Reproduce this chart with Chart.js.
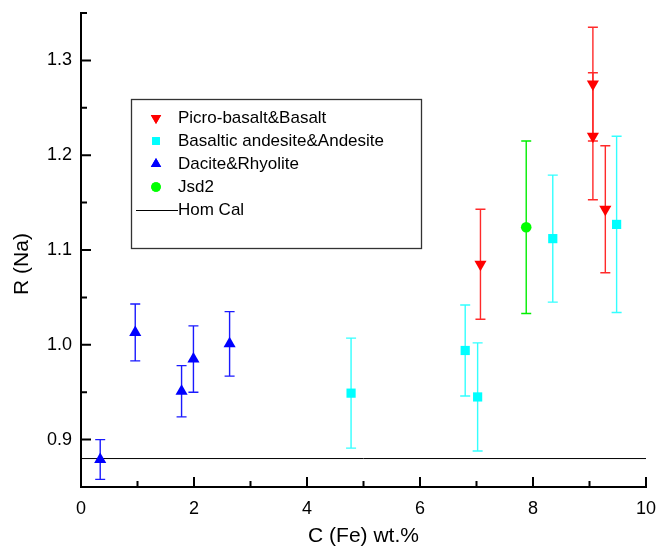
<!DOCTYPE html>
<html>
<head>
<meta charset="utf-8">
<script src="https://cdn.jsdelivr.net/npm/chart.js@4.4.1/dist/chart.umd.min.js"></script>
<style>
  html, body { margin: 0; padding: 0; background: #fff; }
  #wrap { width: 656px; height: 549px; }
</style>
</head>
<body>
<div id="wrap"><canvas id="chart" width="656" height="549"></canvas></div>
<script>
// ---- data ----
const picroX = [7.07, 9.06, 9.06, 9.28];
const picroY = [1.085, 1.275, 1.220, 1.143];
const picroErr = [0.058, 0.060, 0.067, 0.067];

const andesX = [4.78, 6.80, 7.02, 8.35, 9.48];
const andesY = [0.949, 0.994, 0.945, 1.112, 1.127];
const andesErr = [0.058, 0.048, 0.057, 0.067, 0.093];

const daciteX = [0.34, 0.96, 1.78, 1.99, 2.63];
const daciteY = [0.879, 1.013, 0.951, 0.985, 1.001];
const daciteErr = [0.021, 0.030, 0.027, 0.035, 0.034];

const jsdX = [7.88];
const jsdY = [1.124];
const jsdErr = [0.091];

const homX = [0, 10];
const homY = [0.88, 0.88];

const xTicks = [0, 2, 4, 6, 8, 10];
const yTicks = [0.9, 1.0, 1.1, 1.2, 1.3];

const FONT = "'Liberation Sans', Arial, sans-serif";

function pts(xs, ys, errs) {
  return xs.map((x, i) => ({ x: x, y: ys[i], err: errs ? errs[i] : 0 }));
}

// error bars, drawn under the markers
const errorBars = {
  id: 'errorBars',
  beforeDatasetsDraw(chart) {
    const ctx = chart.ctx;
    const xs = chart.scales.x, ys = chart.scales.y;
    chart.data.datasets.forEach(ds => {
      if (!ds.barColor) return;
      ctx.save();
      ctx.strokeStyle = ds.barColor;
      ctx.lineWidth = 1.4;
      ds.data.forEach(p => {
        const px = xs.getPixelForValue(p.x);
        const top = ys.getPixelForValue(p.y + p.err);
        const bot = ys.getPixelForValue(p.y - p.err);
        ctx.beginPath();
        ctx.moveTo(px, top); ctx.lineTo(px, bot);
        ctx.moveTo(px - 5, top); ctx.lineTo(px + 5, top);
        ctx.moveTo(px - 5, bot); ctx.lineTo(px + 5, bot);
        ctx.stroke();
      });
      ctx.restore();
    });
  }
};

// inward major/minor ticks, legend box and y title
const decorations = {
  id: 'decorations',
  afterDraw(chart) {
    const ctx = chart.ctx;
    const xs = chart.scales.x, ys = chart.scales.y;
    const a = chart.chartArea;
    ctx.save();
    ctx.strokeStyle = '#000';
    ctx.lineWidth = 2;
    ctx.beginPath();
    for (let v = 0; v <= 10; v += 1) {
      const px = xs.getPixelForValue(v);
      const len = v % 2 === 0 ? 10 : 6;
      ctx.moveTo(px, a.bottom); ctx.lineTo(px, a.bottom - len);
    }
    for (let k = 0; k <= 10; k++) {
      const v = 0.85 + k * 0.05;
      const py = ys.getPixelForValue(v);
      const len = k % 2 === 1 ? 10 : 6;
      ctx.moveTo(a.left, py); ctx.lineTo(a.left + len, py);
    }
    ctx.stroke();

    // y axis title
    ctx.fillStyle = '#000';
    ctx.font = '21px ' + FONT;
    ctx.textAlign = 'center';
    ctx.textBaseline = 'middle';
    ctx.translate(22, 264);
    ctx.rotate(-Math.PI / 2);
    ctx.fillText('R (Na)', 0, 0);
    ctx.restore();

    // legend
    ctx.save();
    ctx.strokeStyle = '#333';
    ctx.lineWidth = 1.3;
    ctx.strokeRect(131.5, 99.5, 290, 149);
    ctx.font = '17px ' + FONT;
    ctx.textAlign = 'left';
    ctx.textBaseline = 'middle';
    chart.data.datasets.forEach((ds, i) => {
      const y = 118 + i * 23;
      if (ds.showLine) {
        ctx.strokeStyle = ds.borderColor;
        ctx.lineWidth = 1;
        ctx.beginPath();
        ctx.moveTo(136, y + 0.5); ctx.lineTo(178, y + 0.5);
        ctx.stroke();
      } else {
        ctx.fillStyle = ds.pointBackgroundColor;
        Chart.helpers.drawPoint(ctx, {
          pointStyle: ds.pointStyle,
          rotation: ds.rotation || 0,
          radius: ds.legendRadius,
          borderWidth: 0
        }, 156, y);
        ctx.fill();
      }
      ctx.fillStyle = '#000';
      ctx.fillText(ds.label, 178, y);
    });
    ctx.restore();
  }
};

const ctx = document.getElementById('chart').getContext('2d');

new Chart(ctx, {
  type: 'scatter',
  data: {
    datasets: [
      {
        label: 'Picro-basalt&Basalt',
        data: pts(picroX, picroY, picroErr),
        pointStyle: 'triangle', rotation: 180, pointRadius: 7, legendRadius: 6,
        pointBackgroundColor: '#ff0000', pointBorderWidth: 0, barColor: '#ff2a2a'
      },
      {
        label: 'Basaltic andesite&Andesite',
        data: pts(andesX, andesY, andesErr),
        pointStyle: 'rect', pointRadius: 6.5, legendRadius: 5.5,
        pointBackgroundColor: '#00ffff', pointBorderWidth: 0, barColor: '#33ffff'
      },
      {
        label: 'Dacite&Rhyolite',
        data: pts(daciteX, daciteY, daciteErr),
        pointStyle: 'triangle', pointRadius: 7, legendRadius: 6,
        pointBackgroundColor: '#0000ff', pointBorderWidth: 0, barColor: '#1a1aff'
      },
      {
        label: 'Jsd2',
        data: pts(jsdX, jsdY, jsdErr),
        pointStyle: 'circle', pointRadius: 5.3, legendRadius: 4.8,
        pointBackgroundColor: '#00ff00', pointBorderWidth: 0, barColor: '#00ee00'
      },
      {
        label: 'Hom Cal',
        data: pts(homX, homY),
        showLine: true, pointRadius: 0, borderColor: '#000', borderWidth: 1
      }
    ]
  },
  options: {
    responsive: false,
    animation: false,
    devicePixelRatio: 1,
    layout: { padding: { left: 0, top: 13, right: 10, bottom: 0 } },
    plugins: {
      legend: { display: false },
      tooltip: { enabled: false }
    },
    scales: {
      x: {
        type: 'linear', min: 0, max: 10,
        afterFit: s => { s.height = 62; s.paddingLeft = 0; s.paddingRight = 0; },
        afterBuildTicks: s => { s.ticks = xTicks.map(v => ({ value: v })); },
        ticks: { color: '#000', font: { size: 18, family: FONT }, padding: 11, maxRotation: 0,
                 callback: v => String(v) },
        grid: { display: true, drawOnChartArea: false, drawTicks: false },
        border: { display: true, color: '#000', width: 2 },
        title: { display: true, text: 'C (Fe) wt.%', color: '#000',
                 font: { size: 21, family: FONT }, padding: { top: 0, bottom: 0 } }
      },
      y: {
        type: 'linear', min: 0.85, max: 1.35,
        afterFit: s => { s.width = 81; s.paddingTop = 0; s.paddingBottom = 0; },
        afterBuildTicks: s => { s.ticks = yTicks.map(v => ({ value: v })); },
        ticks: { color: '#000', font: { size: 18, family: FONT }, padding: 9,
                 callback: v => v.toFixed(1) },
        grid: { display: true, drawOnChartArea: false, drawTicks: false },
        border: { display: true, color: '#000', width: 2 }
      }
    }
  },
  plugins: [errorBars, decorations]
});
</script>
</body>
</html>
